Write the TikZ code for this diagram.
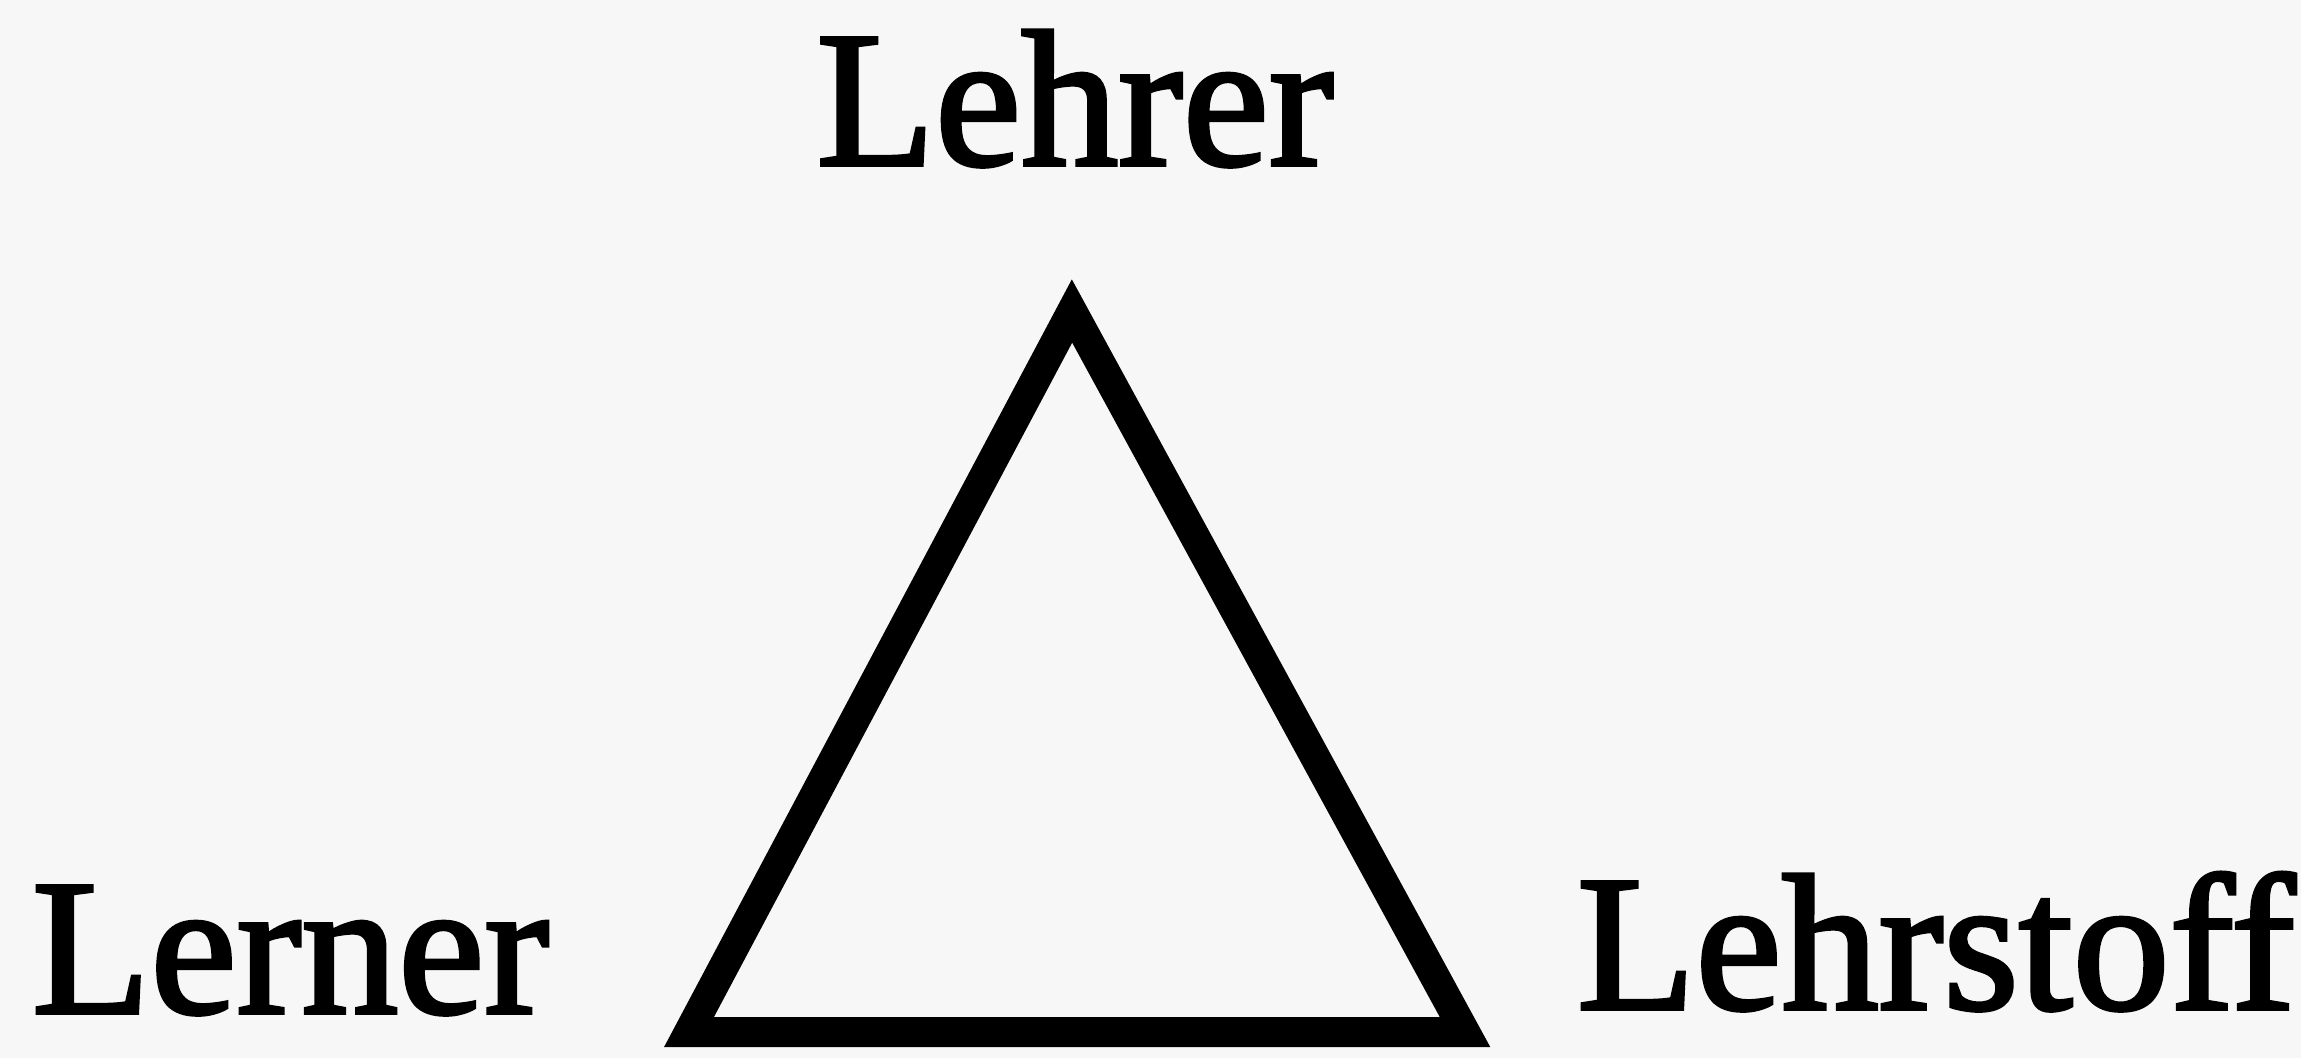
\documentclass[tikz,border=0pt]{standalone}
\usepackage{fontspec}
\setmainfont{Liberation Serif}[FakeBold=2]
\tikzset{
  lbl/.style={inner sep=0pt, outer sep=0pt, font=\fontsize{194}{200}\selectfont},
  tri/.style={line width=30pt, line join=miter, draw=black}
}
\begin{document}
\begin{tikzpicture}[x=1pt,y=-1pt]
\useasboundingbox[fill=white!97!black] (0,0) rectangle (2301,1058);
\node[lbl, anchor=base] (lehrer) at (1075,165) {Lehrer};
\node[lbl, anchor=base west] (lerner) at (32,1013) {Lerner};
\node[lbl, anchor=base west] (stoff) at (1577,1009) {Lehrstoff};
\coordinate (top) at (1072,311);
\coordinate (bl) at (689,1032);
\coordinate (br) at (1465,1032);
\draw[tri] (top) -- (bl) -- (br) -- cycle;
\end{tikzpicture}
\end{document}
